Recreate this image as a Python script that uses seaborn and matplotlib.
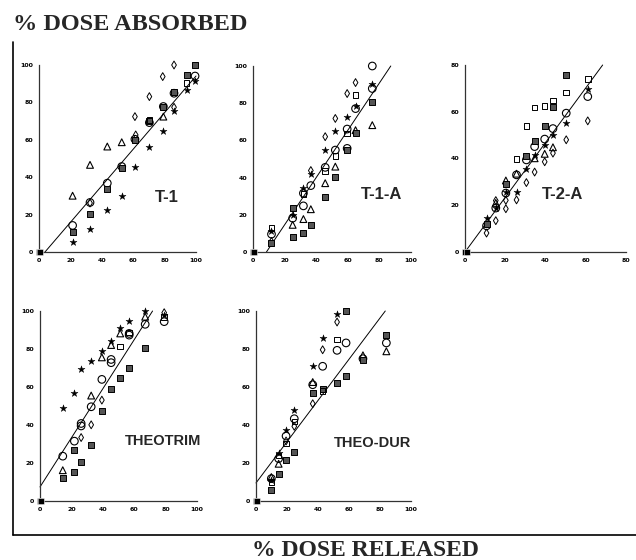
import matplotlib
matplotlib.use("Agg")
import matplotlib.pyplot as plt
import seaborn as sns
import pandas as pd
from matplotlib.lines import Line2D

sns.set_theme(style="white")

# ---------------- data ----------------
panel_names = ["T-1", "T-1-A", "T-2-A", "THEOTRIM", "THEO-DUR"]
axis_max = [100, 100, 80, 100, 100]
tick_step = [20, 20, 20, 20, 20]

# T-1
t1_circle_x = [21.4, 32.5, 43.5, 52.7, 61.1, 70.3, 79.2, 86, 99.4]
t1_circle_y = [14.2, 26.5, 36.8, 45.7, 60.3, 69.2, 77.8, 84.9, 94.1]
t1_diamond_x = [32.5, 61.6, 61.1, 70.3, 78.8, 86, 86]
t1_diamond_y = [26.2, 62.6, 72.4, 83.1, 93.8, 100, 77.4]
t1_tri_x = [21.4, 32.5, 43.5, 52.7, 79.2]
t1_tri_y = [30.1, 46.6, 56.4, 58.7, 72.4]
t1_star_x = [21.4, 32.5, 43.5, 52.7, 61.1, 70.3, 79.2, 86, 94, 99.4]
t1_star_y = [5.2, 12.5, 22.6, 30.1, 45.4, 56.4, 64.9, 75.6, 86.8, 91.5]
t1_box_x = [21.4, 32.5, 43.5, 52.7, 61.1, 70.3, 79.2, 86, 94, 99.4]
t1_box_y = [10.5, 20.3, 33.6, 44.8, 60, 69.8, 77.4, 85.8, 94.7, 100]
t1_sq_x = [94, 70.3]
t1_sq_y = [90.5, 70.5]
t1_line_x = [3.8, 100]
t1_line_y = [0, 94.1]

# T-1-A
t1a_circle_x = [11.7, 25.1, 31.9, 31.9, 36.6, 45.7, 52.1, 59.6, 59.6, 64.9, 75.5, 75.5]
t1a_circle_y = [9.6, 18.2, 24.8, 31.6, 35.7, 45.5, 54.8, 66.1, 55.7, 77.1, 100, 87.9]
t1a_diamond_x = [11.7, 36.6, 45.7, 52.1, 59.6, 64.9]
t1a_diamond_y = [5.7, 43.8, 62, 71.8, 85.2, 91.1]
t1a_tri_x = [25.1, 31.9, 36.6, 45.7, 52.1, 64.9, 75.5]
t1a_tri_y = [14.6, 17.7, 23, 37, 45.9, 65.5, 68.2]
t1a_star_x = [11.7, 25.1, 31.9, 36.6, 45.7, 52.1, 59.6, 64.9, 75.5]
t1a_star_y = [11.1, 20, 34.3, 42, 54.8, 65, 72.7, 78.4, 90.2]
t1a_box_x = [11.7, 25.1, 25.1, 31.9, 36.6, 45.7, 52.1, 59.6, 64.9, 75.5]
t1a_box_y = [4.8, 23.6, 7.9, 10.2, 14.6, 29.8, 40.2, 54.8, 63.8, 80.7]
t1a_sq_x = [11.7, 31.9, 45.7, 52.1, 59.6, 64.9]
t1a_sq_y = [12.9, 31.3, 43.6, 51.6, 63.8, 84.3]
t1a_line_x = [8.5, 87.2]
t1a_line_y = [0, 100]

# T-2-A
t2a_circle_x = [10.7, 15.3, 20.3, 25.6, 30.5, 34.6, 39.6, 43.7, 50.3, 61]
t2a_circle_y = [11.2, 18.8, 25.2, 33, 39.4, 45.1, 48.3, 52.8, 59.4, 66.5]
t2a_diamond_x = [10.7, 15.3, 15.3, 20.3, 20.3, 25.6, 30.5, 34.6, 39.6, 43.7, 50.3, 61]
t2a_diamond_y = [8.1, 22, 13.4, 22.1, 18.5, 22.3, 29.7, 34.2, 38.6, 42.3, 48, 56.1]
t2a_tri_x = [15.3, 20.3, 25.6, 34.6, 39.6, 43.7]
t2a_tri_y = [21, 30.6, 33.5, 40.1, 42, 44.8]
t2a_star_x = [10.7, 15.3, 20.3, 25.6, 30.5, 34.6, 39.6, 43.7, 50.3, 61]
t2a_star_y = [14.5, 18.8, 25.5, 25.6, 35.7, 41.7, 45.8, 50.1, 55.4, 69.6]
t2a_box_x = [10.7, 20.3, 30.5, 34.6, 39.6, 43.7, 50.3]
t2a_box_y = [12, 29, 41.1, 47.7, 54, 61.9, 75.7]
t2a_sq_x = [25.6, 30.5, 34.6, 39.6, 43.7, 50.3, 61]
t2a_sq_y = [39.7, 54, 61.8, 62.5, 64.8, 68.2, 73.9]
t2a_line_x = [0, 68.4]
t2a_line_y = [0, 80]

# THEOTRIM
tt_circle_x = [14.5, 21.9, 26.2, 26.2, 32.6, 39.4, 45.3, 45.3, 56.8, 56.8, 67, 79.1]
tt_circle_y = [23.6, 31.5, 40.8, 39.5, 49.6, 64, 74.5, 72.8, 88.2, 87.3, 93, 94.4]
tt_diamond_x = [26.2, 32.6, 39.4, 79.1]
tt_diamond_y = [33.4, 40.1, 53.1, 99.1]
tt_tri_x = [14.5, 32.6, 39.4, 45.3, 51.1, 67]
tt_tri_y = [16.2, 55.5, 75.6, 82.1, 88.2, 97]
tt_star_x = [14.5, 21.9, 26.2, 32.6, 39.4, 45.3, 51.1, 56.8, 67, 79.1]
tt_star_y = [49.2, 57.1, 69.6, 73.5, 78.7, 84.4, 91, 94.7, 100, 97.9]
tt_box_x = [14.5, 21.9, 21.9, 26.2, 32.6, 39.4, 45.3, 51.1, 56.8, 67]
tt_box_y = [12.1, 27.1, 15.5, 20.6, 29.3, 47.3, 58.7, 64.9, 70.1, 80.7]
tt_sq_x = [51.1, 56.8, 79.1]
tt_sq_y = [81.2, 88.8, 96.7]
tt_line_x = [0, 71.7]
tt_line_y = [7.4, 100]

# THEO-DUR
td_circle_x = [9.9, 14.6, 19.4, 24.7, 36.6, 43, 52.3, 58.1, 69, 84.1]
td_circle_y = [11.8, 22.3, 34.2, 43.3, 61.2, 70.9, 79.3, 83.2, 74.9, 83.2]
td_diamond_x = [19.4, 24.7, 36.6, 43, 52.3]
td_diamond_y = [31.6, 39.3, 51.2, 79.6, 94.2]
td_tri_x = [9.9, 14.6, 36.6, 69, 84.1]
td_tri_y = [12.6, 19.6, 62.6, 76.7, 78.8]
td_star_x = [9.9, 14.6, 19.4, 24.7, 36.6, 43, 52.3]
td_star_y = [11.2, 25.4, 37.2, 47.7, 71.2, 86, 98.6]
td_box_x = [9.9, 14.6, 19.4, 24.7, 36.6, 43, 52.3, 58.1, 58.1, 69, 84.1]
td_box_y = [6, 14, 21.8, 25.6, 56.8, 58.8, 62.3, 100, 66, 74, 87.2]
td_sq_x = [9.9, 14.6, 19.4, 24.7, 43, 52.3]
td_sq_y = [10, 24, 30.2, 41.9, 57.9, 84.9]
td_line_x = [0, 83.4]
td_line_y = [9.5, 100]

panel_data = [
    dict(circle=(t1_circle_x, t1_circle_y), diamond=(t1_diamond_x, t1_diamond_y),
         tri=(t1_tri_x, t1_tri_y), star=(t1_star_x, t1_star_y),
         box=(t1_box_x, t1_box_y), sq=(t1_sq_x, t1_sq_y), line=(t1_line_x, t1_line_y)),
    dict(circle=(t1a_circle_x, t1a_circle_y), diamond=(t1a_diamond_x, t1a_diamond_y),
         tri=(t1a_tri_x, t1a_tri_y), star=(t1a_star_x, t1a_star_y),
         box=(t1a_box_x, t1a_box_y), sq=(t1a_sq_x, t1a_sq_y), line=(t1a_line_x, t1a_line_y)),
    dict(circle=(t2a_circle_x, t2a_circle_y), diamond=(t2a_diamond_x, t2a_diamond_y),
         tri=(t2a_tri_x, t2a_tri_y), star=(t2a_star_x, t2a_star_y),
         box=(t2a_box_x, t2a_box_y), sq=(t2a_sq_x, t2a_sq_y), line=(t2a_line_x, t2a_line_y)),
    dict(circle=(tt_circle_x, tt_circle_y), diamond=(tt_diamond_x, tt_diamond_y),
         tri=(tt_tri_x, tt_tri_y), star=(tt_star_x, tt_star_y),
         box=(tt_box_x, tt_box_y), sq=(tt_sq_x, tt_sq_y), line=(tt_line_x, tt_line_y)),
    dict(circle=(td_circle_x, td_circle_y), diamond=(td_diamond_x, td_diamond_y),
         tri=(td_tri_x, td_tri_y), star=(td_star_x, td_star_y),
         box=(td_box_x, td_box_y), sq=(td_sq_x, td_sq_y), line=(td_line_x, td_line_y)),
]

# ---------------- styling ----------------
W, H = 636, 560
fig = plt.figure(figsize=(W / 100, H / 100), dpi=100)
fig.patch.set_facecolor("white")

# axes boxes in pixel coords: (left, right, top, bottom)
boxes = [(39, 196, 65, 252), (253, 411, 66, 252), (465, 626, 65, 252),
         (40, 197, 311, 501), (256, 411, 311, 501)]
label_pos = [(81.5, 29.4, 12), (81.3, 30.7, 12), (60.5, 24.5, 12),
             (78.7, 31.5, 10.5), (75.3, 30.5, 10.5)]

marker_styles = {
    "circle": dict(marker="o", s=30, fc="none", ec="black", lw=0.8),
    "diamond": dict(marker="d", s=16, fc="none", ec="black", lw=0.7),
    "tri": dict(marker="^", s=24, fc="none", ec="black", lw=0.8),
    "star": dict(marker="*", s=28, fc="black", ec="black", lw=0.3),
    "box": dict(marker="s", s=16, fc="#555555", ec="black", lw=0.7),
    "sq": dict(marker="s", s=16, fc="none", ec="black", lw=0.7),
}

for i, name in enumerate(panel_names):
    l, r, t, b = boxes[i]
    ax = fig.add_axes([l / W, (H - b) / H, (r - l) / W, (b - t) / H])
    ax.set_facecolor("white")
    d = panel_data[i]
    lx, ly = d["line"]
    sns.lineplot(x=lx, y=ly, ax=ax, color="black", linewidth=0.7, clip_on=False)
    for key, st in marker_styles.items():
        xs, ys = d[key]
        df = pd.DataFrame({"x": xs, "y": ys})
        sns.scatterplot(data=df, x="x", y="y", ax=ax, marker=st["marker"], s=st["s"],
                        color="black", linewidth=st["lw"], clip_on=False, zorder=3)
        coll = ax.collections[-1]
        coll.set_facecolor(st["fc"])
        coll.set_edgecolor(st["ec"])
    # origin cluster
    sns.scatterplot(x=[0, 0.8], y=[0, 0], ax=ax, marker="s", s=22, color="black",
                    clip_on=False, zorder=4)
    m = axis_max[i]
    ax.set_xlim(0, m)
    ax.set_ylim(0, m)
    ticks = list(range(0, m + 1, tick_step[i]))
    ax.set_xticks(ticks)
    ax.set_yticks(ticks)
    ax.set_xticklabels([str(v) for v in ticks])
    ax.set_yticklabels([str(v) for v in ticks])
    ax.tick_params(axis="both", labelsize=4.5, length=2, width=0.6, pad=2,
                   colors="black", direction="out")
    for lab in ax.get_xticklabels() + ax.get_yticklabels():
        lab.set_fontweight("bold")
    for side in ["top", "right"]:
        ax.spines[side].set_visible(False)
    for side in ["left", "bottom"]:
        ax.spines[side].set_color("#333333")
        ax.spines[side].set_linewidth(0.9)
    ax.set_xlabel("")
    ax.set_ylabel("")
    tx, ty, fs = label_pos[i]
    ax.text(tx * m / 100 if m != 100 else tx, ty, name, ha="center", va="center",
            fontsize=fs, fontweight="bold", family="Liberation Sans")
    ax.grid(False)

# frame lines
fig.add_artist(Line2D([13 / W, 13 / W], [(H - 42) / H, (H - 535) / H],
                      color="black", linewidth=1.2))
fig.add_artist(Line2D([13 / W, 1.0], [(H - 535) / H, (H - 535) / H],
                      color="black", linewidth=1.2))

fig.text(13 / W, (H - 24) / H, "% DOSE ABSORBED", ha="left", va="center",
         fontsize=17.5, fontweight="bold", family="Liberation Serif")
fig.text(365 / W, (H - 550) / H, "% DOSE RELEASED", ha="center", va="center",
         fontsize=17, fontweight="bold", family="Liberation Serif")

fig.savefig("out.png", dpi=100, facecolor="white")
